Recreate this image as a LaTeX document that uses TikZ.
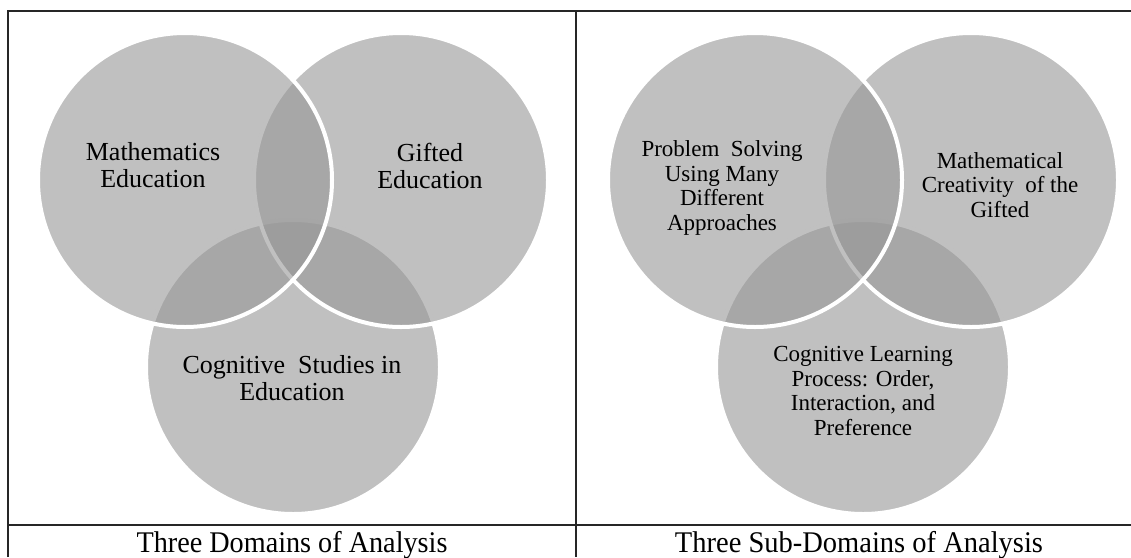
\documentclass[tikz,border=0pt]{standalone}
\usepackage{fontspec}
\setmainfont{Liberation Serif}
\definecolor{vgray}{RGB}{150,150,150}
\begin{document}
\begin{tikzpicture}[x=1pt,y=-1pt,
  venn/.style={circle, minimum size=294pt, inner sep=0pt, fill=vgray,
               fill opacity=0.6, draw=white, line width=4pt},
  lbl/.style={align=center, inner sep=0pt, font=\fontsize{26}{27.5}\selectfont},
  lblsm/.style={align=center, inner sep=0pt, font=\fontsize{23}{24.8}\selectfont},
  captext/.style={anchor=base, inner sep=0pt, font=\fontsize{30}{32}\selectfont},
  tablerule/.style={draw=black!85, line width=2pt}
]
\useasboundingbox (0,0) rectangle (1131,557);

% table frame
\coordinate (tl) at (8,11);
\coordinate (tr) at (1131,11);
\coordinate (bl) at (8,557);
\coordinate (ml) at (8,525);
\coordinate (mr) at (1131,525);
\coordinate (mt) at (576,11);
\coordinate (mb) at (576,557);
\draw[tablerule] (bl) -- (tl) -- (tr);
\draw[tablerule] (ml) -- (mr);
\draw[tablerule] (mt) -- (mb);

% left Venn diagram: three domains
\node[venn] (lc) at (293,367) {};
\node[venn] (lb) at (401,180) {};
\node[venn] (la) at (185,180) {};
\node[lbl] (lat) at (153,165) {Mathematics\\Education};
\node[lbl] (lbt) at (430,166) {Gifted\\Education};
\node[lbl] (lct) at (292,378) {Cognitive~ Studies in\\Education};

% right Venn diagram: three sub-domains
\node[venn] (rc) at (863,367) {};
\node[venn] (rb) at (971,180) {};
\node[venn] (ra) at (755,180) {};
\node[lblsm] (rat) at (722,188) {Problem~ Solving\\Using Many\\Different\\Approaches};
\node[lblsm] (rbt) at (1000,185) {Mathematical\\Creativity~ of the\\Gifted};
\node[lblsm] (rct) at (863,391) {Cognitive Learning\\Process: Order,\\Interaction, and\\Preference};

% captions
\node[captext] (lcap) at (292,552) {\scalebox{0.94}[1]{Three Domains of Analysis}};
\node[captext] (rcap) at (859,552) {\scalebox{0.95}[1]{Three Sub-Domains of Analysis}};
\end{tikzpicture}
\end{document}
